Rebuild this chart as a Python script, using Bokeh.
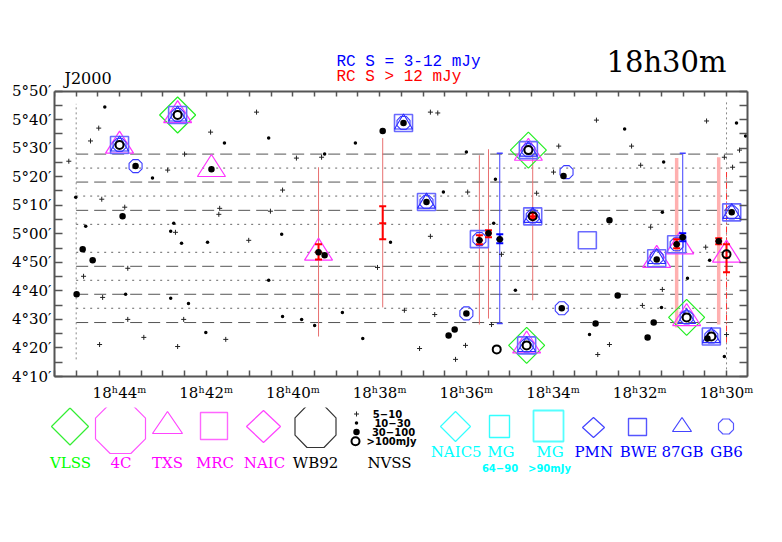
import numpy as np
from bokeh.plotting import figure
from bokeh.models import Range1d, LinearAxis, FixedTicker
from bokeh.layouts import column, row
from bokeh.core.properties import value
from bokeh.embed import file_html
from bokeh.resources import INLINE

# ---------------- data (RA: minutes after 18h, Dec: arcminutes) ----------------
# NVSS 5-10 mJy (plus)
nvss_plus_ra = [45.17, 44.48, 44.67, 40.84, 41.90, 42.50, 42.89, 44.41, 43.88, 41.69, 41.71, 44.83, 43.81,
                44.39, 43.81, 44.46, 43.44, 42.66, 42.52, 41.55, 42.71, 41.02, 39.92, 39.34, 40.24, 40.52,
                36.83, 36.83, 36.66, 35.97, 35.19, 38.05, 37.43, 36.73, 37.08, 36.02, 36.25, 35.42, 33.00,
                30.46, 29.70, 33.87, 32.19, 31.98, 30.05, 29.86, 33.99, 34.38, 31.75, 30.48, 32.70, 32.97,
                31.94, 31.48, 30.00]
nvss_plus_dec = [325.4, 337.0, 332.5, 342.6, 335.6, 327.9, 322.3, 312.1, 309.3, 308.9, 306.8, 285.1, 287.9,
                 277.7, 270.0, 261.2, 263.7, 260.5, 270.0, 263.0, 300.5, 297.7, 326.5, 326.8, 315.3, 307.9,
                 299.1, 342.6, 342.3, 314.6, 292.8, 288.2, 273.2, 271.7, 259.8, 260.9, 256.0, 268.2, 339.8,
                 339.5, 329.3, 330.7, 330.7, 324.0, 326.8, 323.3, 321.6, 314.2, 302.3, 295.3, 261.2, 257.7,
                 274.9, 280.5, 264.7]
# NVSS 10-30 mJy (small dot)
nvss_small_ra = [44.34, 41.58, 43.24, 45.01, 44.78, 43.86, 42.82, 42.41, 42.01, 42.75, 42.82, 42.57, 41.97,
                 40.56, 38.56, 39.27, 40.26, 37.75, 36.00, 36.53, 35.33, 35.37, 40.56, 40.24, 39.80, 39.50,
                 38.86, 38.39, 32.35, 29.77, 29.56, 31.45, 31.48, 30.39, 34.87, 33.16, 31.50, 30.90, 30.05]
nvss_small_dec = [344.4, 331.8, 319.5, 312.8, 302.6, 278.8, 277.4, 275.6, 265.4, 303.7, 300.9, 296.7, 297.0,
                  333.5, 331.8, 327.9, 299.8, 297.0, 328.6, 314.6, 319.1, 303.7, 283.7, 271.0, 270.0, 267.9,
                  272.4, 263.3, 336.7, 338.8, 334.2, 325.1, 307.5, 290.7, 280.2, 264.7, 274.2, 284.4, 257.0]
# NVSS 30-100 mJy (big dot)
nvss_big_ra = [43.63, 41.88, 43.93, 44.85, 44.62, 44.99, 37.93, 37.45, 36.92, 39.41, 39.27, 35.49, 35.23,
               36.00, 36.41, 36.27, 33.76, 32.70, 31.61, 31.15, 31.01, 30.18, 29.88, 33.80, 33.02, 32.51,
               31.68, 31.82, 30.44, 35.70]
nvss_big_dec = [323.7, 322.6, 306.1, 294.6, 290.7, 278.8, 336.0, 338.8, 311.1, 293.5, 292.5, 300.2, 298.1,
                272.1, 264.4, 266.5, 320.2, 304.7, 291.0, 296.3, 298.8, 297.4, 307.5, 273.9, 268.6, 278.4,
                268.9, 263.7, 263.3, 297.7]
# NVSS >100 mJy (open circle)
nvss_bright_ra = [44.00, 42.66, 34.57, 34.47, 35.30, 34.61, 30.92, 30.35, 30.00]
nvss_bright_dec = [331.1, 341.6, 329.3, 306.1, 259.5, 260.9, 270.7, 264.0, 292.8]

# other catalogues
vlss_ra = [42.66, 34.57, 34.61, 30.92]
vlss_dec = [341.6, 329.3, 260.9, 270.7]
txs_ra = [44.00, 42.66, 41.88, 39.41, 34.57, 34.61, 31.61, 31.08, 30.00, 30.92]
txs_dec = [332.1, 342.8, 323.9, 294.6, 329.6, 262.1, 292.1, 296.8, 293.9, 271.7]
bwe_ra = [44.00, 42.66, 37.45, 36.92, 35.70, 34.57, 34.47, 33.21, 31.61, 31.15, 29.88, 34.61, 30.35]
bwe_dec = [331.1, 341.6, 338.8, 311.1, 298.1, 329.3, 306.1, 297.7, 291.4, 296.3, 307.5, 260.9, 264.0]
gb87_ra = [44.00, 42.66, 37.45, 36.92, 34.57, 34.47, 31.61, 29.88, 34.61, 30.92, 30.35]
gb87_dec = [331.6, 342.1, 339.3, 311.6, 329.8, 306.6, 292.2, 308.0, 261.4, 271.2, 264.5]
gb6_ra = [44.00, 43.63, 42.66, 37.45, 36.92, 36.00, 35.70, 33.69, 34.57, 34.47, 31.61, 31.15, 29.88,
          33.80, 34.61, 30.92, 30.35]
gb6_dec = [331.1, 323.7, 341.6, 338.8, 311.1, 272.1, 298.1, 321.6, 329.3, 306.1, 291.7, 296.3, 307.5,
           273.9, 260.9, 270.7, 264.0]

# RC (RATAN) sources
rc_ra = [39.41, 37.93, 35.70, 35.49, 35.23, 34.47, 31.15, 31.01, 30.18, 30.00]
rc_dec = [293.5, 303.7, 297.7, 300.2, 298.1, 306.1, 296.3, 298.8, 297.4, 291.7]
rc_err_hi = [296.3, 309.6, 299.5, 301.2, 299.8, 307.2, 298.1, 300.2, 298.4, 296.3]
rc_err_lo = [291.0, 298.1, 296.3, 298.8, 296.7, 305.4, 294.9, 297.4, 296.3, 286.5]
rc_strip_top = [323.3, 333.5, 327.5, 329.6, 328.2, 327.5, 326.5, 328.2, 326.8, 321.6]
rc_strip_bot = [264.0, 274.2, 268.2, 270.3, 268.6, 276.7, 267.2, 272.4, 268.2, 261.9]
rc_flux_class = ["hi", "hi", "hi", "hi", "lo", "hi", "hi", "lo", "hi", "hi"]
rc_strip_kind = ["thin", "thin", "thin", "thin", "blue", "thin", "wide", "blue", "wide", "dashdot"]

# survey strips and field edges
strip_dashed_dec = [327.9, 318.1, 308.2, 288.6, 278.8, 268.9]
strip_dotted_dec = [323.0, 313.2, 303.3, 293.5, 283.7, 273.9]
strip_ra_span = [45.0, 29.85]
field_edge_ra = [45.0, 30.0]
field_edge_top = [345.5, 347.0]
field_edge_bot = [256.0, 252.5]

# axes
ra_major = [30, 32, 34, 36, 38, 40, 42, 44]
ra_labels = ["18ʰ30ᵐ", "18ʰ32ᵐ", "18ʰ34ᵐ", "18ʰ36ᵐ", "18ʰ38ᵐ", "18ʰ40ᵐ", "18ʰ42ᵐ", "18ʰ44ᵐ"]
ra_minor = [30.5, 31, 31.5, 32.5, 33, 33.5, 34.5, 35, 35.5, 36.5, 37, 37.5, 38.5, 39, 39.5,
            40.5, 41, 41.5, 42.5, 43, 43.5, 44.5, 45, 45.5]
dec_major = [250, 260, 270, 280, 290, 300, 310, 320, 330, 340, 350]
dec_labels = ["4°10′", "4°20′", "4°30′", "4°40′", "4°50′", "5°00′", "5°10′", "5°20′", "5°30′", "5°40′", "5°50′"]
dec_minor = [255, 265, 275, 285, 295, 305, 315, 325, 335, 345]

header_texts = ["J2000", "RC S = 3-12 mJy", "RC S > 12 mJy", "18h30m"]
legend_labels = ["VLSS", "4C", "TXS", "MRC", "NAIC", "WB92", "NAIC5", "MG", "MG", "PMN", "BWE", "87GB", "GB6"]
legend_sub = ["64−90", ">90mJy"]
nvss_classes = ["5−10", "10−30", "30−100", ">100mJy"]

# ---------------- layout (page pixels; canvas origin at 1,1) ----------------
OX, OY = 1, 1
W = 774
H1, H2 = 407, 126
FL, FR, FT, FB = 55, 748, 91.5, 377      # map frame edges in page pixels (FT = Dec 5°50')
BT = 15                                   # extra top area holds the header texts
BL, BR = FL - OX, OX + W - FR
BB = OY + H1 - FB
X0, X1 = 45.5, 29.516
D0, D1 = 250, 350
sx = (X0 - X1) / (FR - FL)               # RA minutes per pixel
sy = (D1 - D0) / (FB - FT)               # arcmin per pixel
Y_TOP = D0 + (FB - (OY + BT)) * sy
SERIF = "DejaVu Serif"


def ra_of(px):
    return X1 + (FR - px) * sx


def dec_of(py):
    return D1 - (py - FT) * sy


def shape_pts(kind, w, h):
    if kind == "diamond":
        return [0, w / 2, 0, -w / 2], [h / 2, 0, -h / 2, 0]
    if kind == "square":
        return [-w / 2, w / 2, w / 2, -w / 2], [h / 2, h / 2, -h / 2, -h / 2]
    if kind == "triangle":
        return [0, w / 2, -w / 2], [h / 2, -h / 2, -h / 2]
    a = np.deg2rad(22.5 + 45 * np.arange(8))
    r = 1 / np.cos(np.deg2rad(22.5))
    return list(w / 2 * r * np.cos(a)), list(h / 2 * r * np.sin(a))


def shapes(kind, xs, ys, w, h, ux, uy):
    px, py = shape_pts(kind, w, h)
    return ([[x + u * ux for u in px] for x in xs], [[y + v * uy for v in py] for y in ys])


# ---------------- main map ----------------
p = figure(width=W, height=H1, x_range=Range1d(X0, X1), y_range=Range1d(D0, Y_TOP),
           x_axis_type=None, y_axis_type=None, toolbar_location=None, output_backend="svg",
           min_border_left=BL, min_border_right=BR, min_border_top=BT, min_border_bottom=BB)
p.outline_line_color = None
p.background_fill_color = "white"
p.border_fill_color = "white"


def style_axis(ax, tin, labels, show=True):
    ax.axis_line_color = "#555555"
    ax.axis_line_width = 2
    ax.major_tick_line_color = "#555555"
    ax.minor_tick_line_color = "#555555"
    ax.major_tick_line_width = 1.5
    ax.minor_tick_line_width = 1.5
    ax.major_tick_in = tin
    ax.major_tick_out = 0
    ax.minor_tick_in = tin
    ax.minor_tick_out = 0
    ax.major_label_overrides = labels
    ax.major_label_text_font = SERIF
    ax.major_label_text_font_size = "15px" if show else "0px"
    ax.major_label_text_color = "black"
    if not show:
        ax.major_label_standoff = 0


xt = FixedTicker(ticks=ra_major, minor_ticks=ra_minor)
yt = FixedTicker(ticks=dec_major, minor_ticks=dec_minor)
bx = LinearAxis(ticker=xt)
style_axis(bx, 6, dict(zip(ra_major, ra_labels)))
bx.major_label_standoff = 7
tx = LinearAxis(ticker=xt, fixed_location=D1)
style_axis(tx, 5, {t: "" for t in ra_major}, show=False)
ly = LinearAxis(ticker=yt, bounds=(D0, D1))
style_axis(ly, 8, dict(zip(dec_major, dec_labels)))
ly.major_label_standoff = 3
ry = LinearAxis(ticker=yt, bounds=(D0, D1))
style_axis(ry, 8, {t: "" for t in dec_major}, show=False)
p.add_layout(bx, "below")
p.add_layout(tx, "above")
p.add_layout(ly, "left")
p.add_layout(ry, "right")

# header texts (inside the canvas above the map)
p.text(x=[ra_of(65)], y=[dec_of(79)], text=[header_texts[0]], text_color="black", text_font=value(SERIF),
       text_font_size=value("16px"), text_align="left", text_baseline="middle")
p.text(x=[ra_of(337)] * 2, y=[dec_of(62), dec_of(77)], text=header_texts[1:3],
       text_color=["#0000ff", "#ff0000"], text_font=value("Liberation Mono"), text_font_size=value("16px"),
       text_align="left", text_baseline="middle")
p.text(x=[ra_of(727)], y=[dec_of(62)], text=[header_texts[3]], text_color="black", text_font=value(SERIF),
       text_font_size=value("29px"), text_align="right", text_baseline="middle")

# survey strips
n = len(strip_dashed_dec)
p.segment(x0=[strip_ra_span[0]] * n, x1=[strip_ra_span[1]] * n, y0=strip_dashed_dec, y1=strip_dashed_dec,
          line_color="#555555", line_width=1, line_dash="12 6")
m = len(strip_dotted_dec)
p.segment(x0=[strip_ra_span[0]] * m, x1=[strip_ra_span[1]] * m, y0=strip_dotted_dec, y1=strip_dotted_dec,
          line_color="#666666", line_width=1, line_dash="2 5")
p.segment(x0=field_edge_ra, x1=field_edge_ra, y0=field_edge_bot, y1=field_edge_top,
          line_color="#888888", line_width=1, line_dash="2 3")

# RC strip extents
rc_line_style = {"thin": ("#e87070", 1, "solid"), "wide": ("#ffb0b0", 3.5, "solid"),
                 "blue": ("#4040ff", 1, "solid"), "dashdot": ("#ff3030", 1, "6 2 1 2")}
for kind, (col, lw, dash) in rc_line_style.items():
    idx = [i for i, k in enumerate(rc_strip_kind) if k == kind]
    if not idx:
        continue
    p.segment(x0=[rc_ra[i] for i in idx], x1=[rc_ra[i] for i in idx],
              y0=[rc_strip_bot[i] for i in idx], y1=[rc_strip_top[i] for i in idx],
              line_color=col, line_width=lw, line_dash=dash)
    if kind == "blue":
        p.scatter([rc_ra[i] for i in idx] * 2, [rc_strip_top[i] for i in idx] + [rc_strip_bot[i] for i in idx],
                  marker="dash", size=6, line_color=col, line_width=1.5)

# catalogue symbols
p.patches(*shapes("diamond", vlss_ra, vlss_dec, 36, 36, sx, sy), fill_color=None, line_color="#22ee22", line_width=1.2)
p.patches(*shapes("triangle", txs_ra, txs_dec, 28, 22, sx, sy), fill_color=None, line_color="#ff33ff", line_width=1.2)
p.patches(*shapes("square", bwe_ra, bwe_dec, 18, 17, sx, sy), fill_color=None, line_color="#6a6aff", line_width=1.6)
p.patches(*shapes("triangle", gb87_ra, gb87_dec, 18, 15, sx, sy), fill_color=None, line_color="#2a2aff", line_width=1.1)
p.patches(*shapes("octagon", gb6_ra, gb6_dec, 13, 13, sx, sy), fill_color=None, line_color="#3a3aff", line_width=1.1)

# RC error bars
for cls, col in (("hi", "#ff0000"), ("lo", "#0000ff")):
    idx = [i for i, c in enumerate(rc_flux_class) if c == cls]
    xs = [rc_ra[i] for i in idx]
    p.segment(x0=xs, x1=xs, y0=[rc_err_lo[i] for i in idx], y1=[rc_err_hi[i] for i in idx],
              line_color=col, line_width=2)
    p.scatter(xs * 3, [rc_err_lo[i] for i in idx] + [rc_err_hi[i] for i in idx] + [rc_dec[i] for i in idx],
              marker="dash", size=7, line_color=col, line_width=2)

# NVSS
p.scatter(nvss_plus_ra, nvss_plus_dec, marker="cross", size=5, line_color="#222222", line_width=1)
p.scatter(nvss_small_ra, nvss_small_dec, marker="circle", size=3.5, fill_color="black", line_color=None)
p.scatter(nvss_big_ra, nvss_big_dec, marker="circle", size=6.5, fill_color="black", line_color=None)
p.scatter(nvss_bright_ra, nvss_bright_dec, marker="circle", size=8, fill_color=None, line_color="black", line_width=2)

# ---------------- legend panel (coordinates = page pixels) ----------------
LT = OY + H1
leg = figure(width=W, height=H2, x_range=Range1d(OX, OX + W), y_range=Range1d(LT + H2, LT),
             x_axis_type=None, y_axis_type=None, toolbar_location=None, output_backend="svg",
             min_border=0)
leg.outline_line_color = None
leg.background_fill_color = "white"
leg.border_fill_color = "white"

leg_symbols = [  # kind, cx, cy, w, h, colour, width
    ("diamond", 70.5, 427, 37, 37, "#33ee33", 1.2),
    ("octagon", 121, 429, 50, 50, "#ff55ff", 1.2),
    ("triangle", 168, 423, 30, 22, "#ff44ff", 1.2),
    ("square", 214.5, 426.5, 27, 27, "#ff66ff", 1.4),
    ("diamond", 264, 427, 34, 32, "#ff44ff", 1.2),
    ("octagon", 316, 427, 41, 42, "#333333", 1.2),
    ("diamond", 456, 427, 30, 30, "#33ffff", 1.2),
    ("square", 500, 427, 20, 22, "#33ffff", 1.4),
    ("square", 549, 426.5, 30, 31, "#55ffff", 1.8),
    ("diamond", 594, 428, 22, 20, "#4444ff", 1.2),
    ("square", 638, 427.5, 18, 17, "#5555ff", 1.4),
    ("triangle", 682.5, 425, 19, 14, "#4444ff", 1.2),
    ("octagon", 726.5, 427, 15, 15, "#5555ff", 1.2),
]
for kind, cx, cy, w, h, col, lw in leg_symbols:
    xs, ys = shapes(kind, [cx], [cy], w, h, 1, -1)
    leg.patches(xs, ys, fill_color=None, line_color=col, line_width=lw)

lab_x = [71, 121.5, 168, 215.5, 265, 316, 456.7, 501.3, 550.5, 594.3, 639, 683, 727]
lab_y = [463] * 6 + [452.5] * 7
lab_c = ["#00ff00", "#ff00ff", "#ff00ff", "#ff00ff", "#ff00ff", "black",
         "#00ffff", "#00ffff", "#00ffff", "#0000ff", "#0000ff", "#0000ff", "#0000ff"]
leg.text(x=lab_x, y=lab_y, text=legend_labels, text_color=lab_c, text_font=value(SERIF),
         text_font_size=value("15px"), text_align="center", text_baseline="middle")
leg.text(x=[390], y=[463.5], text=["NVSS"], text_color="black", text_font=value(SERIF),
         text_font_size=value("15px"), text_align="center", text_baseline="middle")
leg.text(x=[500.5, 550], y=[468.5, 468.5], text=legend_sub, text_color="#00ffff",
         text_font=value("DejaVu Sans"), text_font_style="bold", text_font_size=value("10px"),
         text_align="center", text_baseline="middle")
nv_y = [414.5, 423.5, 432.5, 441.7]
leg.text(x=[388, 393, 394, 392], y=nv_y, text=nvss_classes, text_color="black",
         text_font=value("DejaVu Sans"), text_font_style="bold", text_font_size=value("10px"),
         text_align="center", text_baseline="middle")
leg.scatter([357], [nv_y[0]], marker="cross", size=5, line_color="#222222")
leg.scatter([357], [nv_y[1]], marker="circle", size=3.5, fill_color="black", line_color=None)
leg.scatter([357], [nv_y[2]], marker="circle", size=6.5, fill_color="black", line_color=None)
leg.scatter([356], [nv_y[3]], marker="circle", size=8, fill_color=None, line_color="black", line_width=2)

layout = column(p, row(leg), spacing=0)
open("out.html", "w").write(file_html(layout, INLINE))
